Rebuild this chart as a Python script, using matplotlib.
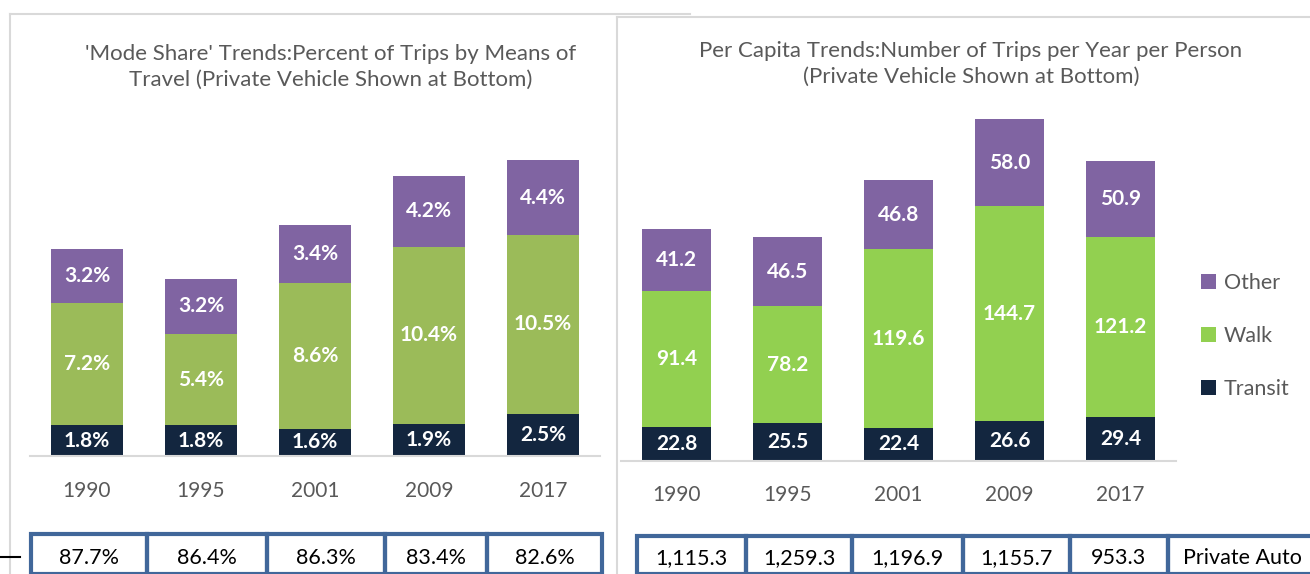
import matplotlib.pyplot as plt
from matplotlib.patches import Rectangle

years = ['1990', '1995', '2001', '2009', '2017']

# mode share (%)
share_transit = [1.8, 1.8, 1.6, 1.9, 2.5]
share_walk = [7.2, 5.4, 8.6, 10.4, 10.5]
share_other = [3.2, 3.2, 3.4, 4.2, 4.4]
share_auto = [87.7, 86.4, 86.3, 83.4, 82.6]

# trips per year per person
pc_transit = [22.8, 25.5, 22.4, 26.6, 29.4]
pc_walk = [91.4, 78.2, 119.6, 144.7, 121.2]
pc_other = [41.2, 46.5, 46.8, 58.0, 50.9]
pc_auto = [1115.3, 1259.3, 1196.9, 1155.7, 953.3]

navy = '#13263f'
olive = '#9bbb59'
lime = '#92d050'
purple = '#8064a2'
grey = '#595959'
boxblue = '#41679a'
frame = '#d9d9d9'

plt.rcParams['font.family'] = ['Lato', 'DejaVu Sans']

W, H = 1310, 574
fig = plt.figure(figsize=(W / 100, H / 100), dpi=100)


def px_axes(x0, x1, ytop, ybot):
    return fig.add_axes([x0 / W, 1 - ybot / H, (x1 - x0) / W, (ybot - ytop) / H])


def px_line(x0, y0, x1, y1, color=frame, lw=1.5):
    fig.add_artist(plt.Line2D([x0 / W, x1 / W], [1 - y0 / H, 1 - y1 / H], color=color, lw=lw))


# panel frames
px_line(10, 14, 690, 14)
px_line(10, 14, 10, 574)
px_line(617, 17, 1310, 17)
px_line(617, 17, 617, 574)


def draw_panel(ax, transit, walk, other, walk_color, fmt, top, pad):
    x = range(len(years))
    w = 0.63
    b1 = transit
    b2 = [t + k for t, k in zip(transit, walk)]
    ax.bar(x, transit, w, color=navy, label='Transit')
    ax.bar(x, walk, w, bottom=b1, color=walk_color, label='Walk')
    ax.bar(x, other, w, bottom=b2, color=purple, label='Other')
    for i in x:
        ax.text(i, transit[i] / 2, fmt(transit[i]), ha='center', va='center',
                color='white', fontsize=15, fontweight='bold')
        ax.text(i, b1[i] + walk[i] / 2, fmt(walk[i]), ha='center', va='center',
                color='white', fontsize=15, fontweight='bold')
        ax.text(i, b2[i] + other[i] / 2, fmt(other[i]), ha='center', va='center',
                color='white', fontsize=15, fontweight='bold')
    ax.set_xlim(-0.5, len(years) - 0.5)
    ax.set_ylim(0, top)
    ax.set_xticks(list(x))
    ax.set_xticklabels(years, fontsize=15, color=grey)
    ax.tick_params(axis='x', length=0, pad=pad)
    ax.set_yticks([])
    for s in ['top', 'right', 'left']:
        ax.spines[s].set_visible(False)
    ax.spines['bottom'].set_color(frame)
    ax.spines['bottom'].set_linewidth(1.5)


ax1 = px_axes(30, 600, 140, 456)
draw_panel(ax1, share_transit, share_walk, share_other, olive,
           lambda v: f'{v:.1f}%', (456 - 140) / 17.0, 18)

ax2 = px_axes(621, 1176, 110, 461)
draw_panel(ax2, pc_transit, pc_walk, pc_other, lime,
           lambda v: f'{v:.1f}', (461 - 110) / 1.49, 17)

fig.text(331 / W, 1 - 67 / H,
         "'Mode Share' Trends:Percent of Trips by Means of\nTravel (Private Vehicle Shown at Bottom)",
         ha='center', va='center', fontsize=16, color=grey, linespacing=1.4)
fig.text(971 / W, 1 - 64 / H,
         "Per Capita Trends:Number of Trips per Year per Person\n(Private Vehicle Shown at Bottom)",
         ha='center', va='center', fontsize=16, color=grey, linespacing=1.4)

# legend (reverse order: Other, Walk, Transit)
h, l = ax2.get_legend_handles_labels()
fig.legend(h[::-1], l[::-1], loc='center left', bbox_to_anchor=(1182 / W, 1 - 336 / H),
           frameon=False, fontsize=15.5, labelcolor=grey, handlelength=0.7, handleheight=0.7,
           handletextpad=0.35, labelspacing=1.55)


def box_row(edges, labels, ytop):
    for i, txt in enumerate(labels):
        x0, x1 = edges[i], edges[i + 1]
        fig.patches.append(Rectangle((x0 / W, 0), (x1 - x0) / W, 1 - ytop / H,
                                     transform=fig.transFigure, fill=False,
                                     edgecolor=boxblue, lw=3))
        fig.text((x0 + x1) / 2 / W, 1 - 558 / H, txt, ha='center', va='center',
                 fontsize=15.5, color='black')


box_row([31, 147, 267, 385, 487, 602], [f'{v:.1f}%' for v in share_auto], 534)
box_row([637, 746, 852, 963, 1070, 1168, 1316],
        [f'{v:,.1f}' for v in pc_auto] + ['Private Auto'], 536)

px_line(0, 557, 20, 557, color='black', lw=1.5)

fig.savefig('out.png', dpi=100)
